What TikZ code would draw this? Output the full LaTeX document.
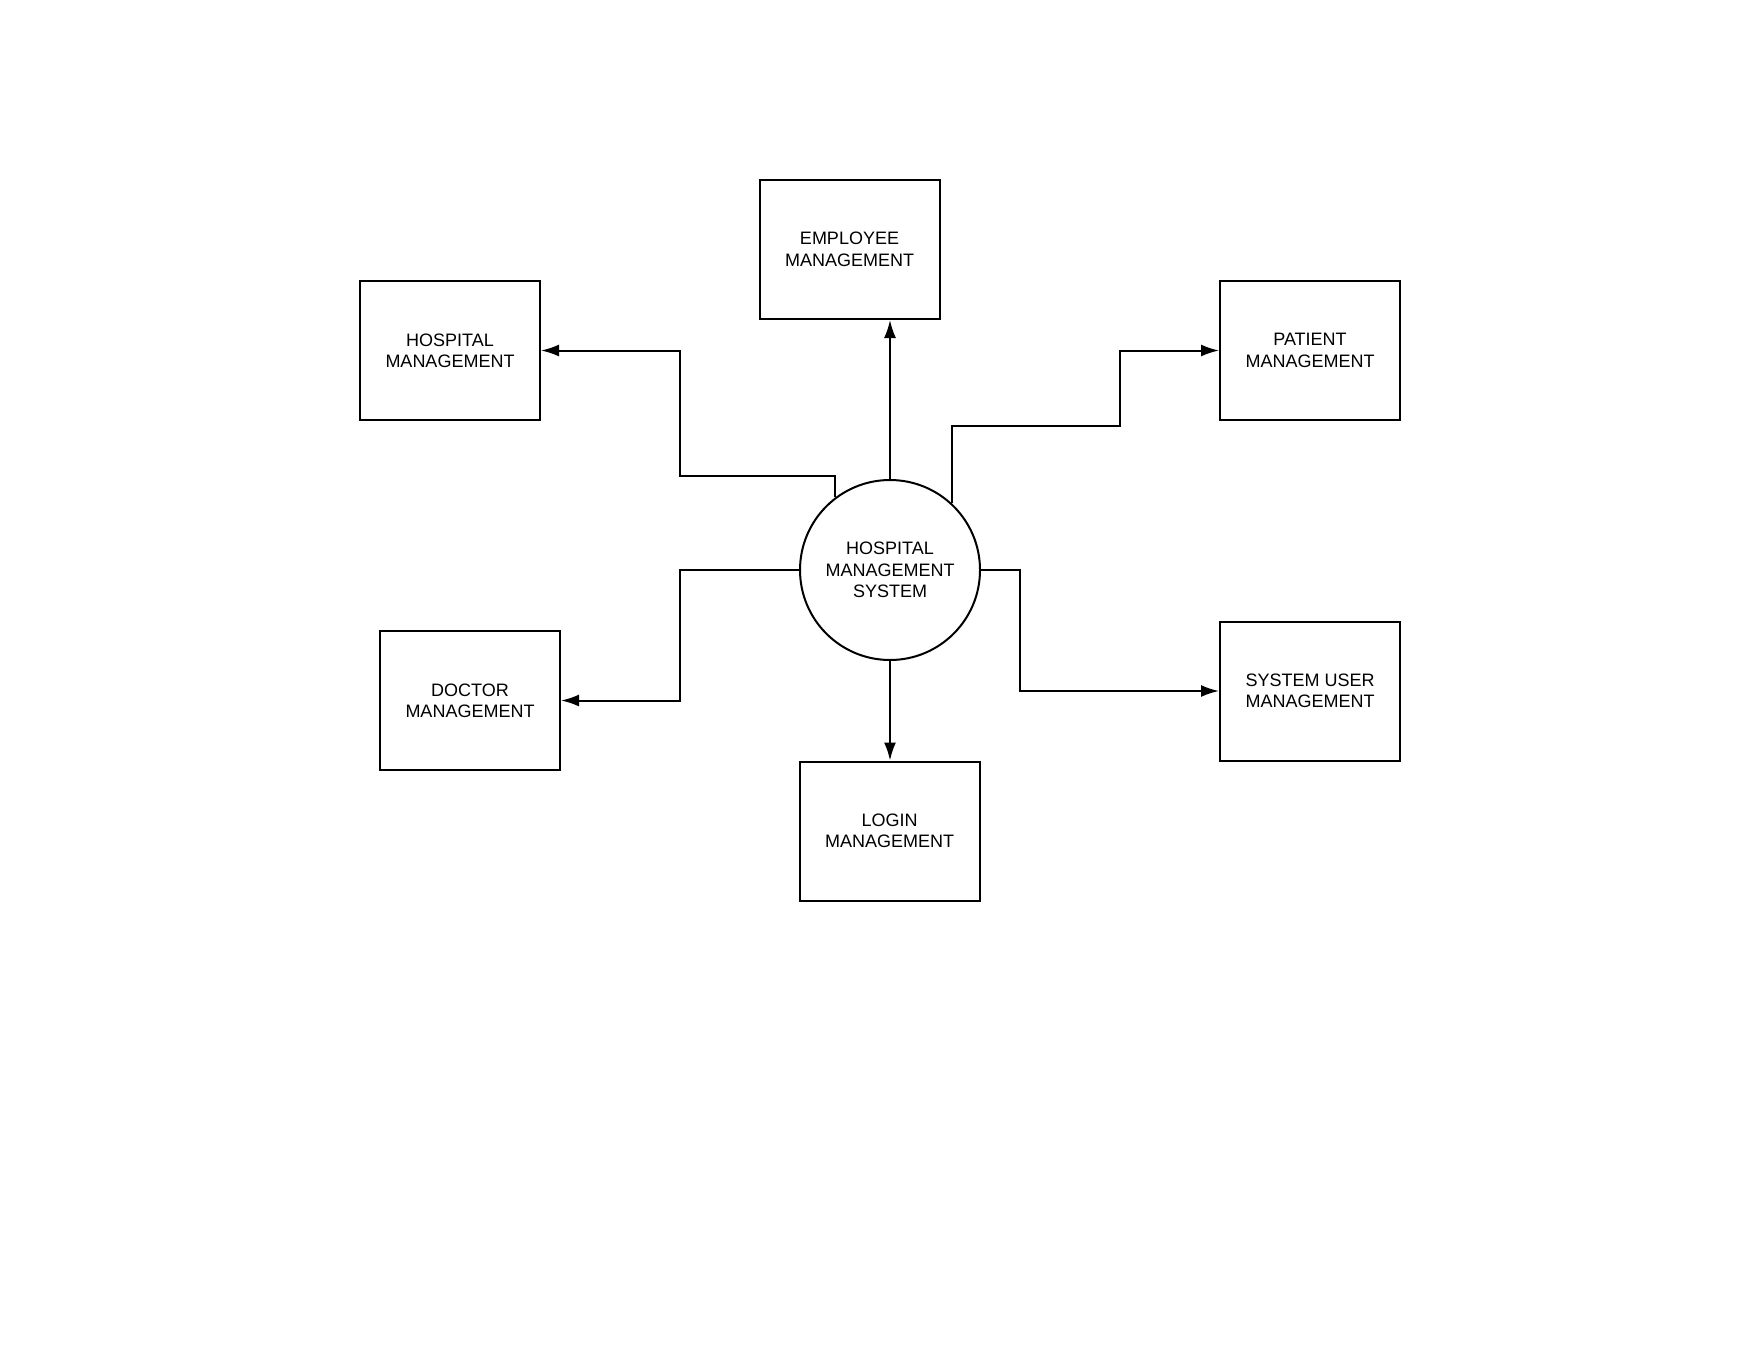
\documentclass[tikz,border=0pt]{standalone}
\usepackage{fontspec}
\setmainfont{Liberation Sans}
\usetikzlibrary{arrows.meta, calc}

\tikzset{
    module/.style={draw, line width=1pt, minimum width=90pt, minimum height=69.5pt, inner sep=0pt, align=center, font=\fontsize{9}{10.7}\selectfont},
    process/.style={draw, circle, line width=1pt, minimum size=90pt, inner sep=0pt, align=center, font=\fontsize{9}{10.7}\selectfont},
    flow/.style={line width=1pt, -{Latex[length=9pt,width=6pt]}}
}

\begin{document}
\begin{tikzpicture}[x=0.5pt, y=-0.5pt]
        \useasboundingbox (0,0) rectangle (1760,1360);

        \node[process] (sys) at (890,570) {HOSPITAL\\MANAGEMENT\\SYSTEM};

        \node[module] (emp) at (849.5,249.5) {EMPLOYEE\\MANAGEMENT};
        \node[module] (hosp) at (450,350.5) {HOSPITAL\\MANAGEMENT};
        \node[module] (pat) at (1310,350.5) {PATIENT\\MANAGEMENT};
        \node[module] (doc) at (470,700.5) {DOCTOR\\MANAGEMENT};
        \node[module] (sysuser) at (1310,691) {SYSTEM USER\\MANAGEMENT};
        \node[module] (login) at (889.5,831) {LOGIN\\MANAGEMENT};

        % bends of the connectors
        \coordinate (hospbend) at (680,476);
        \coordinate (patbend) at (1120,426);
        \coordinate (docbend) at (680,570);
        \coordinate (userbend) at (1020,570);

        \draw[flow] (sys.north) -- (sys.north |- emp.south);
        \draw[flow] (sys.south) -- (sys.south |- login.north);
        \draw[flow] (sys.127) |- (hospbend) |- (hosp.east);
        \draw[flow] (sys.47) |- (patbend) |- (pat.west);
        \draw[flow] (sys.west) -- (docbend) |- (doc.east);
        \draw[flow] (sys.east) -- (userbend) |- (sysuser.west);
    \end{tikzpicture}
\end{document}
